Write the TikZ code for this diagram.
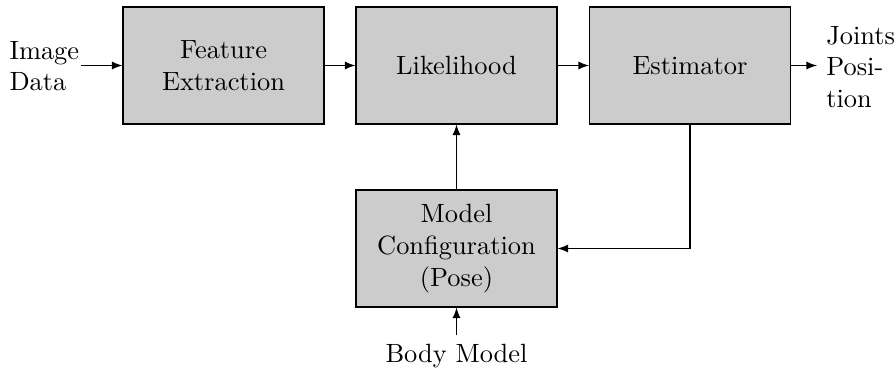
\documentclass[tikz,border=0pt]{standalone}
\usetikzlibrary{arrows}
\begin{document}
\begin{tikzpicture}[x=0.3788pt, y=-0.3788pt,
    block/.style={draw, fill=gray!40, rectangle, align=center,
      minimum width=201*0.3788pt, minimum height=117*0.3788pt, inner sep=2pt},
    lbl/.style={align=left, inner sep=0.5pt},
    flow/.style={-latex}]
  \useasboundingbox (0,0) rectangle (896,368);

  % processing blocks
  \node[block] (feat) at (223.5,65.5) {Feature\\Extraction};
  \node[block] (like) at (456.5,65.5) {Likelihood};
  \node[block] (est) at (690,65.5) {Estimator};
  \node[block] (conf) at (456.5,248.5) {Model\\Configuration\\(Pose)};

  % inputs and outputs
  \node[lbl, anchor=east] (img) at (81,66) {Image\\Data};
  \node[align=left, anchor=west] (joint) at (817,67) {Joints\\Posi-\\tion};
  \node[anchor=north] (body) at (456.5,335) {Body Model};
  \coordinate (turn) at (est.south |- conf.east);

  % connectors
  \draw[flow] (img.east |- feat.west) -- (feat.west);
  \draw[flow] (feat) -- (like);
  \draw[flow] (like) -- (est);
  \draw[flow] (est.east) -- (est.east -| joint.west);
  \draw[flow] (conf.north -| like.south) -- (like.south);
  \draw[flow] (est.south) -- (turn) -- (conf.east);
  \draw[flow] (body.north) -- (conf.south);
\end{tikzpicture}
\end{document}
